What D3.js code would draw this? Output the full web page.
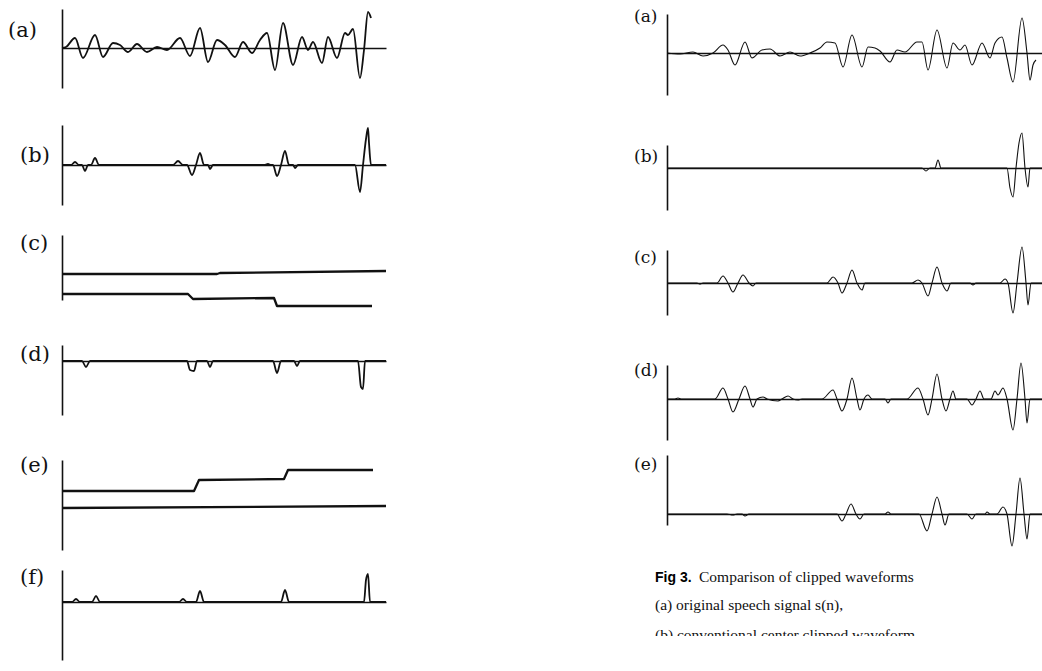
<html>
<script src='https://d3js.org/d3.v7.min.js'></script>
<style>
    body {
        margin: 0;
        background: #fff;
        overflow: hidden;
    }

    .lbl {
        font-family: 'DejaVu Serif', 'Liberation Serif', serif;
        fill: #111;
    }

    .cap {
        font-family: 'Liberation Serif', 'DejaVu Serif', serif;
        font-size: 15.5px;
        fill: #111;
    }
</style>

<body>
    <svg width=1042 height=671></svg>
</body>

<script>
    // waveforms: [sample, amplitude], amplitude in arbitrary units (+ up)
    // left figure, samples 0..324
    const leftA = [[0, 0], [4, 1], [13, 10], [21, -10], [33, 13], [41, -9], [51, 5], [58, 3], [66, -4], [75, 4],
        [85, -4], [95, 1], [105, -2], [118, 10], [128, -8], [138, 20], [146, -14], [155, 8], [163, 3], [173, -9],
        [181, 6], [190, -5], [198, 8], [205, 15], [213, -22], [221, 25], [231, -17], [240, 11], [246, -2], [251, 6],
        [260, -15], [266, 11], [275, -10], [283, 15], [286, 13], [291, 19], [298, -30], [302, -2], [306, 36], [309, 30]];
    const leftB = [[0, 0], [9, 0], [13, 3], [17, 0], [20, 0], [23, -6], [26, 0], [29, 0], [33, 7], [37, 0],
        [111, 0], [116, 4], [121, 0], [125, 0], [130, -10], [134, 0], [138, 12], [142, 0], [146, 0], [148, -4], [151, 0],
        [202, 0], [206, 1], [209, 0], [211, 0], [215, -11], [219, 0], [223, 14], [227, 0], [231, 0], [233, -3], [236, 0],
        [293, 0], [298, -27], [301, 0], [304, 26], [306, 37], [307, 22], [309, 0], [324, 0]];
    const leftCUpper = [[0, -2], [155, -2], [158, -1], [324, 1]];
    const leftCLower = [[0, -22], [126, -22], [131, -27], [212, -26], [215, -34], [310, -34]];
    const leftD = [[0, 0], [20, 0], [24, -6], [28, 0], [125, 0], [128, -9], [132, -10], [135, 0], [145, 0], [148, -6],
        [151, 0], [211, 0], [215, -12], [219, 0], [232, 0], [235, -5], [238, 0], [296, 0], [299, -26], [301, -28],
        [303, 0], [324, 0]];
    const leftEUpper = [[0, 0], [132, 0], [137, 11], [222, 12], [226, 21], [311, 21]];
    const leftELower = [[0, -17], [324, -15]];
    const leftF = [[0, 0], [10, 0], [14, 3], [18, 0], [30, 0], [34, 6], [38, 0], [117, 0], [121, 3], [125, 0],
        [134, 0], [138, 11], [142, 0], [219, 0], [223, 12], [227, 0], [302, 0], [304, 22], [306, 28], [308, 0], [324, 0]];

    // right figure, samples 0..375
    const rightA = [[0, 0], [13, -1], [26, 1], [36, -3], [46, 0], [56, 8], [61, 3], [68, -12], [78, 11], [85, -5],
        [95, 3], [103, 4], [113, -3], [123, 1], [133, -3], [143, 0], [153, 5], [160, 11], [168, 10], [176, -14],
        [185, 18], [195, -14], [201, 6], [208, 5], [213, 2], [223, -9], [230, 3], [238, 1], [250, 11], [255, 11],
        [261, -17], [270, 23], [280, -15], [286, 10], [293, 3], [298, 8], [305, -12], [315, 10], [323, -5], [328, 10],
        [335, 16], [340, -5], [346, -29], [355, 35], [360, 0], [363, -27], [366, -12], [369, -7]];
    const rightB = [[0, 0], [255, 0], [259, -3], [263, 0], [268, 0], [271, 8], [274, 0], [340, 0], [343, -20],
        [346, -29], [349, 0], [352, 25], [355, 35], [358, 0], [361, -19], [363, 0], [375, 0]];
    const rightC = [[0, 0], [30, 0], [33, -1], [36, 0], [50, 0], [56, 7], [61, 0], [66, -9], [71, 0], [76, 8], [82, 0],
        [86, -3], [89, 0], [160, 0], [166, 6], [171, 0], [175, -10], [180, 0], [185, 13], [190, 0], [195, -7], [198, 0],
        [245, 0], [251, 3], [255, 0], [261, -13], [265, 0], [270, 16], [275, 0], [280, -8], [284, 0], [303, 0],
        [306, -2], [309, 0], [333, 0], [338, 4], [341, 0], [346, -30], [350, 0], [355, 36], [359, 0], [361, -22],
        [364, 0], [375, 0]];
    const rightD = [[0, 0], [8, 0], [11, 1], [14, 0], [48, 0], [56, 11], [61, 0], [66, -13], [72, 0], [78, 13],
        [83, 0], [86, -8], [90, 0], [96, 2], [100, 0], [111, -2], [115, 0], [121, 3], [126, 0], [131, -1], [135, 0],
        [155, 0], [166, 9], [170, 0], [175, -12], [180, 0], [185, 21], [190, 0], [193, -11], [197, 0], [201, 4],
        [205, 0], [218, 0], [221, -4], [224, 0], [240, 0], [251, 11], [256, 0], [261, -16], [265, 0], [270, 25],
        [275, 0], [279, -12], [283, 0], [286, 8], [289, 0], [300, 0], [305, -6], [309, 0], [313, 8], [317, 0],
        [324, 0], [328, 8], [331, 4], [336, 11], [340, 0], [346, -31], [350, 0], [354, 36], [358, 0], [360, -24],
        [363, 0], [375, 0]];
    const rightE = [[0, 0], [60, 0], [66, -1], [70, 0], [75, 0], [78, -2], [82, 0], [170, 0], [175, -7], [179, 0],
        [184, 10], [189, 0], [193, -5], [197, 0], [218, 0], [221, 2], [224, 0], [252, 0], [260, -17], [265, 0],
        [270, 17], [275, 0], [278, -11], [282, 0], [300, 0], [305, -5], [309, 0], [318, 0], [320, 2], [323, 0],
        [330, 0], [336, 7], [340, 0], [345, -32], [349, 0], [353, 36], [357, 0], [360, -25], [363, 0], [375, 0]];

    const captionLines = ['Comparison of clipped waveforms', '(a) original speech signal s(n),',
        '(b) conventional center clipped waveform,'];

    // layout
    const cols = {
        L: { range: [62, 386], domain: [0, 324], width: 1.8, lsize: 21 },
        R: { range: [667, 1042], domain: [0, 375], width: 1.1, lsize: 17 }
    };

    const panels = [
        { col: 'L', label: '(a)', lx: 8, ly: 37, top: 9, bot: 88, base: 48, zero: true, series: [leftA] },
        { col: 'L', label: '(b)', lx: 20, ly: 162, top: 125, bot: 205, base: 165, zero: true, series: [leftB] },
        { col: 'L', label: '(c)', lx: 20, ly: 250, top: 235, bot: 300, base: 272, zero: false, series: [leftCUpper, leftCLower], step: true },
        { col: 'L', label: '(d)', lx: 20, ly: 361, top: 345, bot: 415, base: 361, zero: true, series: [leftD] },
        { col: 'L', label: '(e)', lx: 20, ly: 472, top: 460, bot: 550, base: 491, zero: false, series: [leftEUpper, leftELower], step: true },
        { col: 'L', label: '(f)', lx: 20, ly: 584, top: 570, bot: 660, base: 602, zero: true, series: [leftF] },
        { col: 'R', label: '(a)', lx: 634, ly: 22, top: 14, bot: 95, base: 53, zero: true, series: [rightA] },
        { col: 'R', label: '(b)', lx: 634, ly: 162, top: 145, bot: 210, base: 168, zero: true, series: [rightB] },
        { col: 'R', label: '(c)', lx: 634, ly: 263, top: 250, bot: 315, base: 283, zero: true, series: [rightC] },
        { col: 'R', label: '(d)', lx: 634, ly: 376, top: 365, bot: 440, base: 399, zero: true, series: [rightD] },
        { col: 'R', label: '(e)', lx: 634, ly: 470, top: 455, bot: 525, base: 514, zero: true, series: [rightE] }
    ];

    var svg = d3.select('svg');

    panels.forEach(function(p) {
        var c = cols[p.col];
        var x = d3.scaleLinear().domain(c.domain).range(c.range);
        var y = d3.scaleLinear().domain([-40, 40]).range([p.base + 40, p.base - 40]);
        var g = svg.append('g');

        // vertical axis, no ticks
        var yAxis = d3.scaleLinear().domain([0, 1]).range([p.bot, p.top]);
        g.append('g')
            .attr('transform', 'translate(' + c.range[0] + ',0)')
            .call(d3.axisLeft(yAxis).ticks(0).tickSizeOuter(0))
            .select('.domain').attr('stroke', '#111').attr('stroke-width', 1.6);

        // zero line
        if (p.zero) {
            g.append('g')
                .attr('transform', 'translate(0,' + y(0) + ')')
                .call(d3.axisBottom(x).ticks(0).tickSizeOuter(0))
                .select('.domain').attr('stroke', '#111').attr('stroke-width', 1.7);
        }

        var line = d3.line()
            .x(function(d) { return x(d[0]); })
            .y(function(d) { return y(d[1]); })
            .curve(p.step ? d3.curveLinear : d3.curveMonotoneX);

        p.series.forEach(function(s) {
            g.append('path')
                .datum(s)
                .attr('fill', 'none')
                .attr('stroke', '#111')
                .attr('stroke-width', p.step ? 2.3 : c.width)
                .attr('stroke-linejoin', 'round')
                .attr('d', line);
        });

        g.append('text')
            .attr('class', 'lbl')
            .attr('x', p.lx)
            .attr('y', p.ly)
            .style('font-size', c.lsize + 'px')
            .text(p.label);
    });

    // caption
    var cap = svg.append('g');
    cap.append('text')
        .attr('x', 655).attr('y', 582)
        .style('font-family', "'Liberation Sans Narrow', 'Liberation Sans', Arial, sans-serif")
        .style('font-size', '14px')
        .style('font-weight', 'bold')
        .text('Fig 3.');
    cap.append('text').attr('class', 'cap').attr('x', 699).attr('y', 582).text(captionLines[0]);
    cap.append('text').attr('class', 'cap').attr('x', 655).attr('y', 610).text(captionLines[1]);

    svg.append('clipPath').attr('id', 'cut')
        .append('rect').attr('x', 640).attr('y', 620).attr('width', 400).attr('height', 16);
    cap.append('text').attr('class', 'cap').attr('x', 655).attr('y', 640)
        .attr('clip-path', 'url(#cut)').text(captionLines[2]);
</script>

</html>
